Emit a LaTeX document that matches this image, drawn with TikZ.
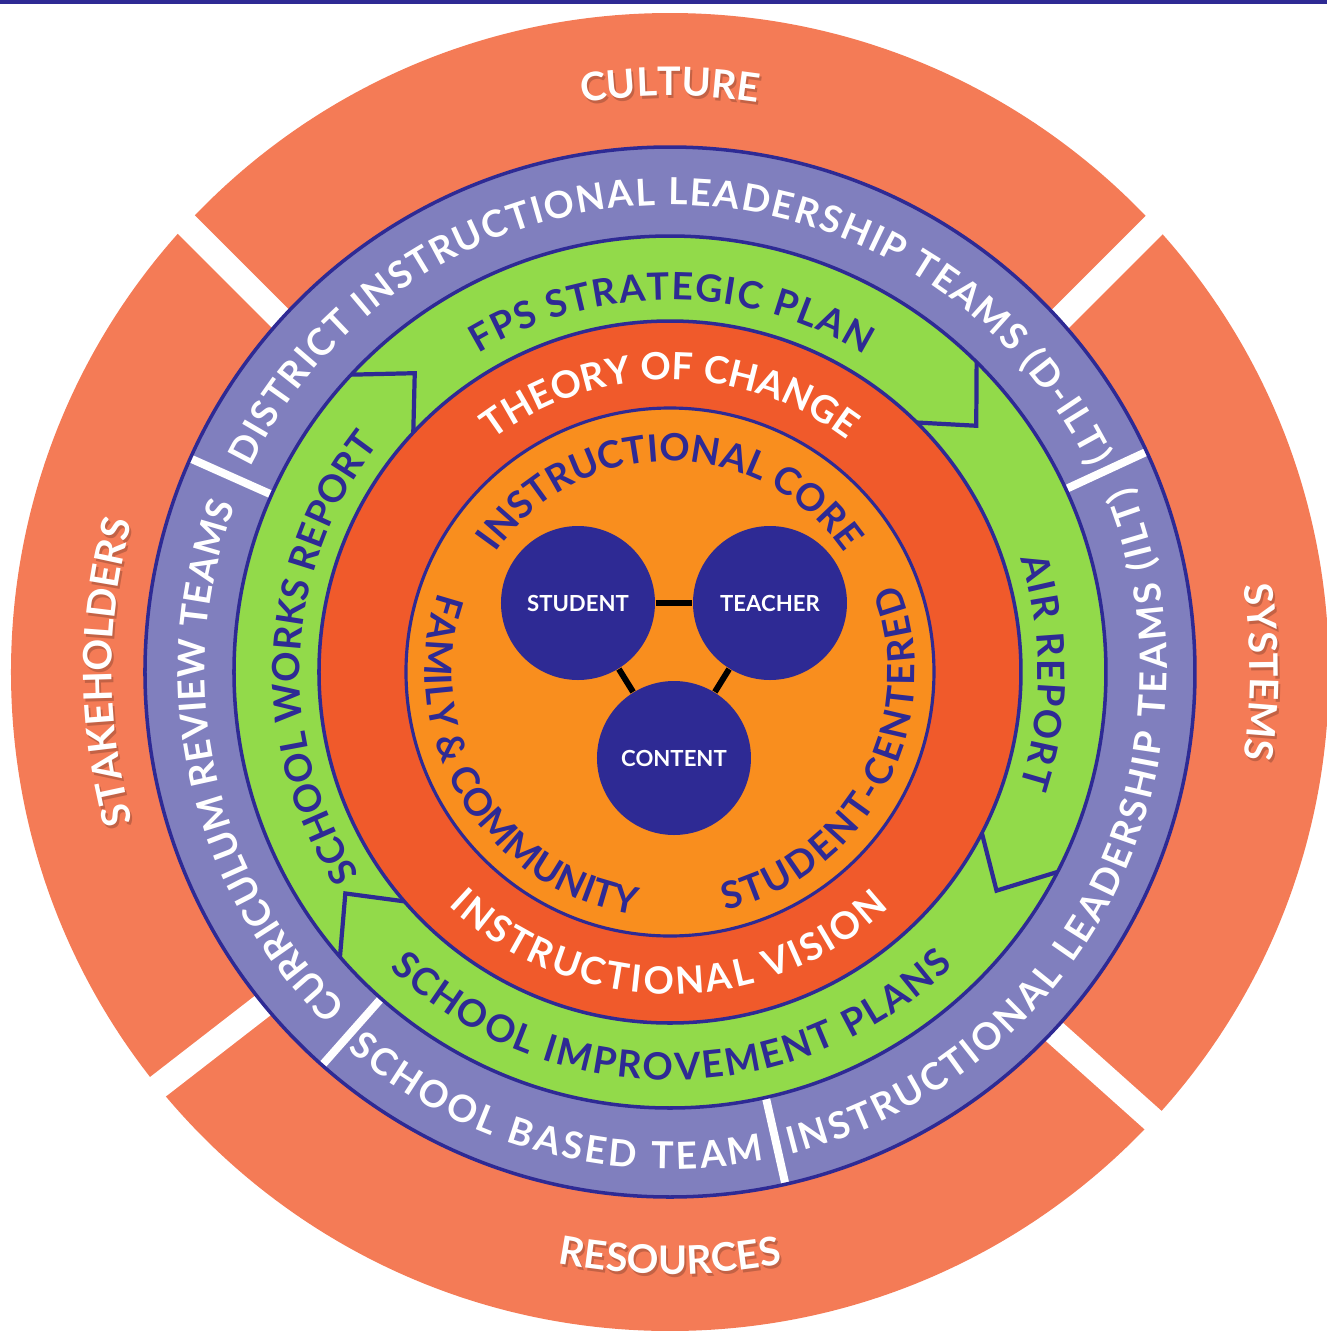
\documentclass[tikz,border=0pt]{standalone}
\usepackage{fontspec}
\setmainfont{Lato}
\usetikzlibrary{decorations.text}

\definecolor{fpsnavy}{HTML}{2E2A94}
\definecolor{fpssalmon}{HTML}{F47B56}
\definecolor{fpspurple}{HTML}{807FBE}
\definecolor{fpsgreen}{HTML}{92DA4A}
\definecolor{fpsred}{HTML}{F05A2B}
\definecolor{fpsorange}{HTML}{F98E1E}

\tikzset{x=0.1mm, y=0.1mm}
\tikzset{
 ringfill/.style={fill=#1, draw=fpsnavy, line width=1pt},
 gapline/.style={white, line width=2.5mm},
 sepline/.style={white, line width=0.8mm},
 chevron/.style={fpsnavy, line width=1.2pt, line join=miter},
 corecircle/.style={circle, fill=fpsnavy, minimum size=15.4mm, inner sep=0pt,
   text=white, font=\fontsize{6.3}{7}\selectfont\bfseries},
 link/.style={black, line width=1.7pt}
}
% text on an arc: radius, start angle, end angle, format, text
\newcommand{\ringtext}[5]{\path[decorate,decoration={text along path,
 text align=center,text={|#4|#5}}] (#2:#1) arc[start angle=#2,end angle=#3,radius=#1];}
% same, spread out to fill the whole arc
\newcommand{\ringtextfit}[5]{\path[decorate,decoration={text along path,
 text align={fit to path},text={|#4|#5}}] (#2:#1) arc[start angle=#2,end angle=#3,radius=#1];}
\newcommand{\outerfmt}{\fontsize{11.2}{12}\selectfont\bfseries\color{white}}
\newcommand{\shadefmt}{\fontsize{11.2}{12}\selectfont\bfseries\color{fpssalmon!80!black}}
\newcommand{\teamfmt}{\fontsize{10.6}{10.6}\selectfont\bfseries\color{white}}
\newcommand{\planfmt}{\fontsize{10.7}{10.7}\selectfont\bfseries\color{fpsnavy}}
\newcommand{\visionfmt}{\fontsize{10.7}{10.7}\selectfont\bfseries\color{white}}

\begin{document}
\begin{tikzpicture}
\useasboundingbox (-670,-659) rectangle (657,672);
\fill[fpsnavy] (-670,668) rectangle (657,672); % top bar

% outer ring and its four gaps
\fill[fpssalmon] (0,0) circle[radius=659];
\draw[gapline] (-561.7,525.4) -- (-200,163.7);
\draw[gapline] (566,528.8) -- (200,162.8);
\draw[gapline] (-589.8,-475) -- (-194.8,-168.9);
\draw[gapline] (561.2,-518) -- (188.5,-184.7);

% teams ring
\fill[fpspurple] (0,0) circle[radius=525];
\foreach \a in {156,24.8,228.5,282.7} % edit here for the team separators
 \draw[sepline] (\a:436) -- (\a:525);
\draw[fpsnavy, line width=1pt] (0,0) circle[radius=525];

% plans ring with the arrow chevrons
\draw[ringfill=fpsgreen] (0,0) circle[radius=436];
\foreach \a in {137,45.3,-27.3,220.8}
 \draw[chevron] (\a:436) -- (\a-6.5:393) -- (\a:351);

% theory of change and core
\draw[ringfill=fpsred] (0,0) circle[radius=351];
\draw[ringfill=fpsorange, line width=0.9pt] (0,0) circle[radius=264];

\node[corecircle] (student) at (-92,69) {STUDENT};
\node[corecircle] (teacher) at (100,69) {TEACHER};
\node[corecircle] (content) at (4,-86) {CONTENT};
\draw[link] (student) -- (teacher);
\draw[link] (student) -- (content);
\draw[link] (teacher) -- (content);

% labels, the outer ones with a soft shadow
\begin{scope}[shift={(2,-3)}]
\ringtext{576}{150}{30}{\shadefmt}{CULTURE}
\ringtext{580}{60}{-60}{\shadefmt}{SYSTEMS}
\ringtext{602}{210}{330}{\shadefmt}{RESOURCES}
\ringtext{558}{240}{120}{\shadefmt}{STAKEHOLDERS}
\end{scope}
\ringtext{576}{150}{30}{\outerfmt}{CULTURE}
\ringtext{580}{60}{-60}{\outerfmt}{SYSTEMS}
\ringtext{602}{210}{330}{\outerfmt}{RESOURCES}
\ringtext{558}{240}{120}{\outerfmt}{STAKEHOLDERS}

\ringtextfit{467}{154}{26}{\teamfmt}{DISTRICT INSTRUCTIONAL LEADERSHIP TEAMS (D-ILT)}
\ringtextfit{497}{-76}{22}{\teamfmt}{INSTRUCTIONAL LEADERSHIP TEAMS (ILT)}
\ringtextfit{497}{229.5}{281}{\teamfmt}{SCHOOL BASED TEAM}
\ringtextfit{465}{226}{159}{\teamfmt}{CURRICULUM REVIEW TEAMS}

\ringtextfit{372}{121}{58.5}{\planfmt}{FPS STRATEGIC PLAN}
\ringtextfit{368}{18}{-18}{\planfmt}{AIR REPORT}
\ringtextfit{408}{226.5}{314}{\planfmt}{SCHOOL IMPROVEMENT PLANS}
\ringtext{370}{240}{115}{\planfmt}{SCHOOL WORKS REPORT}

\ringtext{292}{150}{30}{\visionfmt}{THEORY OF CHANGE}
\ringtextfit{322}{226.5}{313}{\visionfmt}{INSTRUCTIONAL VISION}

\ringtext{211}{160}{20}{\planfmt}{INSTRUCTIONAL CORE}
\ringtextfit{245}{161}{262}{\planfmt}{FAMILY {\&} COMMUNITY}
\ringtextfit{245}{283}{381}{\planfmt}{STUDENT-CENTERED}
\end{tikzpicture}
\end{document}
